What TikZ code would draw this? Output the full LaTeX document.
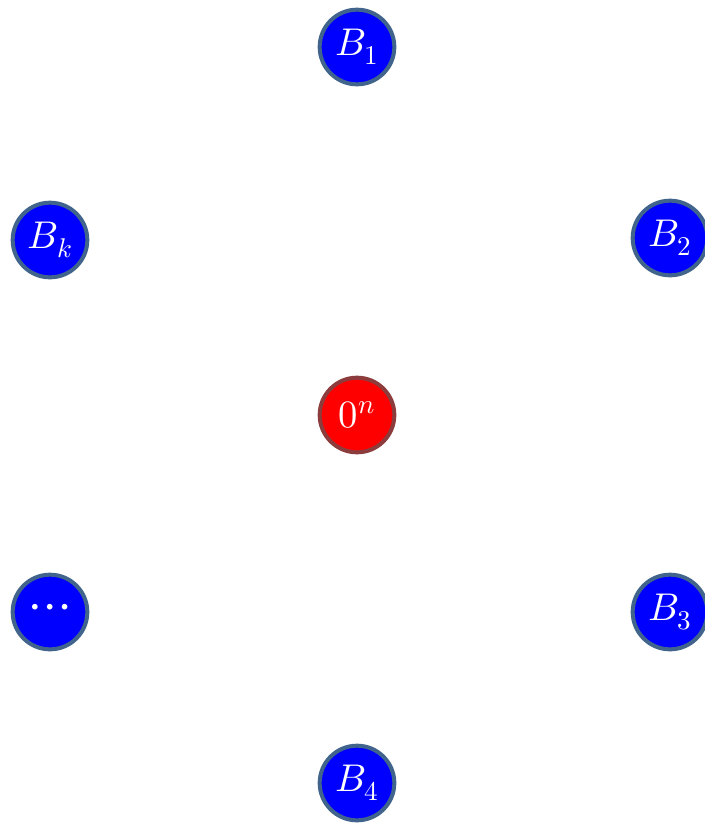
\documentclass[tikz,border=0pt]{standalone}
\usepackage{xcolor}
\usepackage{unicode-math}
\usepackage{tikz}
\definecolor{bloque}{RGB}{0,0,255}
\definecolor{bordeb}{RGB}{65,100,140}
\definecolor{origen}{RGB}{255,0,0}
\definecolor{bordeo}{RGB}{140,60,60}
\tikzset{
  nodob/.style={circle, fill=bloque, draw=bordeb, line width=3pt, minimum size=56pt, inner sep=0pt, text=white, font=\fontsize{29}{32}\selectfont},
  nodoo/.style={nodob, fill=origen, draw=bordeo}
}

\begin{document}
\begin{tikzpicture}[x=0.75pt, y=-0.75pt]
        \useasboundingbox (0,0) rectangle (705,825);
        \node[nodoo] (cero) at (357,415) {$0^n$};
        \node[nodob] (b1) at (357,47) {$B_1$};
        \node[nodob] (b2) at (670,238) {$B_2$};
        \node[nodob] (b3) at (670,612) {$B_3$};
        \node[nodob] (b4) at (357,783) {$B_4$};
        \node[nodob, font=\fontsize{40}{40}\selectfont] (puntos) at (50,612) {$\cdots$};
        \node[nodob] (bk) at (50,240) {$B_k$};
      \end{tikzpicture}
\end{document}
